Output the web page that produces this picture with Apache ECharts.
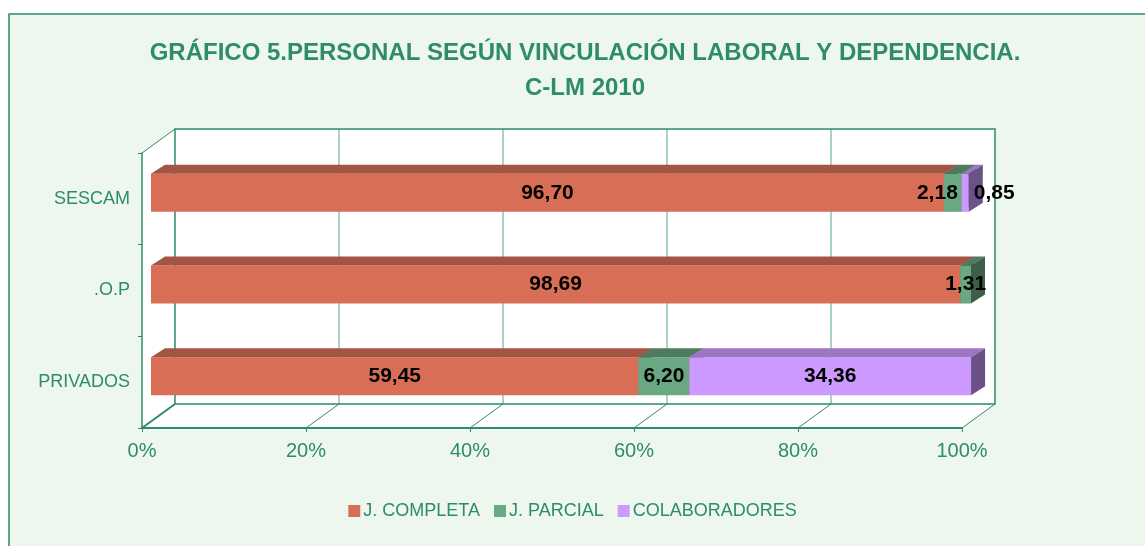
<!DOCTYPE html>
<html>
<head>
<meta charset="utf-8">
<script src="https://cdn.jsdelivr.net/npm/echarts@6/dist/echarts.min.js"></script>
<style>html,body{margin:0;padding:0;background:#fff}#c{width:1145px;height:546px}</style>
</head>
<body>
<div id="c"></div>
<script>
const categories = ['PRIVADOS', '.O.P', 'SESCAM'];
const jCompleta = [59.45, 98.69, 96.70];
const jParcial = [6.20, 1.31, 2.18];
const colaboradores = [34.36, 0, 0.85];
const seriesNames = ['J. COMPLETA', 'J. PARCIAL', 'COLABORADORES'];
const xTicks = [0, 20, 40, 60, 80, 100];
const titleText = 'GRÁFICO 5.PERSONAL SEGÚN VINCULACIÓN LABORAL Y DEPENDENCIA.\nC-LM 2010';

const GREEN = '#2E8B6B';
const LIGHT = '#8DC5AE';
const BG = '#EEF7EE';
const FONT = '"Liberation Sans", Arial, sans-serif';
const colors = [
  {front: '#D96E57', top: '#A35443', side: '#7E3F32'},
  {front: '#6AA883', top: '#4E7B5F', side: '#3E5E4A'},
  {front: '#CC99FF', top: '#9E76C4', side: '#6A5289'}
];
const DX = 33, DY = -24;       // box depth
const BX = 9, BY = -6;          // bar front offset
const BDX = 14, BDY = -9;       // bar depth

const values = [jCompleta, jParcial, colaboradores];

function fmt(v) { return v.toFixed(2).replace('.', ','); }

function frameRender(params, api) {
  const cs = params.coordSys;
  const top = cs.y, bot = cs.y + cs.height;
  const X = v => api.coord([v, 0])[0];
  const x0 = X(0), x1 = X(100);
  const ch = [];
  ch.push({type: 'polygon', shape: {points: [[x0, top], [x0 + DX, top + DY], [x1 + DX, top + DY], [x1 + DX, bot + DY], [x1, bot], [x0, bot]]}, style: {fill: '#fff', stroke: null}, z2: 0});
  xTicks.forEach(v => {
    if (v > 0 && v < 100) {
      ch.push({type: 'line', shape: {x1: X(v) + DX, y1: top + DY, x2: X(v) + DX, y2: bot + DY}, style: {stroke: LIGHT, lineWidth: 1.5}, z2: 1});
    }
    ch.push({type: 'line', shape: {x1: X(v), y1: bot, x2: X(v) + DX, y2: bot + DY}, style: {stroke: GREEN, lineWidth: v === 0 ? 2 : 1}, z2: 2});
  });
  ch.push({type: 'rect', shape: {x: x0 + DX, y: top + DY, width: x1 - x0, height: cs.height}, style: {fill: null, stroke: GREEN, lineWidth: 1.5}, z2: 3});
  ch.push({type: 'line', shape: {x1: x0, y1: top, x2: x0 + DX, y2: top + DY}, style: {stroke: GREEN, lineWidth: 1}, z2: 3});
  return {type: 'group', children: ch};
}

function makeBarRender(si) {
  return function (params, api) {
    const start = api.value(0), ci = api.value(1), val = api.value(2);
    if (!val) return null;
    const p0 = api.coord([start, ci]);
    const p1 = api.coord([start + val, ci]);
    const h = api.size([0, 1])[1] * 0.415;
    const xa = p0[0] + BX, xb = p1[0] + BX;
    const yc = p0[1] + BY;
    const t = yc - h / 2, b = yc + h / 2;
    const c = colors[si];
    const ch = [
      {type: 'rect', shape: {x: xa, y: t, width: xb - xa, height: h}, style: {fill: c.front}},
      {type: 'polygon', shape: {points: [[xa, t], [xa + BDX, t + BDY], [xb + BDX, t + BDY], [xb, t]]}, style: {fill: c.top}},
      {type: 'polygon', shape: {points: [[xb, t], [xb + BDX, t + BDY], [xb + BDX, b + BDY], [xb, b]]}, style: {fill: c.side}}
    ];
    let tx = (xa + xb) / 2, align = 'center';
    if (xb - xa < 30) {
      const idx = params.dataIndex;
      const next = si < values.length - 1 ? values[si + 1][idx] : 0;
      const prev = si > 0 ? values[si - 1][idx] : 100;
      if (next > 0) { tx = xb - 4; align = 'right'; }
      else if (prev < 5) { tx = xb + 5; align = 'left'; }
    }
    ch.push({type: 'text', z2: 100, style: {text: fmt(val), x: tx, y: yc, align: align, verticalAlign: 'middle', fontSize: 21, fontWeight: 'bold', fontFamily: FONT, fill: '#000'}});
    return {type: 'group', children: ch};
  };
}

const barSeries = values.map((arr, si) => ({
  type: 'custom',
  name: seriesNames[si],
  z: 3,
  coordinateSystem: 'cartesian2d',
  itemStyle: {color: colors[si].front},
  renderItem: makeBarRender(si),
  encode: {x: [0], y: 1},
  data: arr.map((v, i) => {
    let s = 0;
    for (let k = 0; k < si; k++) s += values[k][i];
    return [s, i, v];
  })
}));

const chart = echarts.init(document.getElementById('c'), null, {renderer: 'canvas'});
chart.setOption({
  backgroundColor: '#fff',
  animation: false,
  graphic: [{type: 'rect', z: -10, shape: {x: 9, y: 14, width: 1145, height: 546}, style: {fill: BG, stroke: GREEN, lineWidth: 1.5}}],
  title: {
    text: titleText,
    left: 580, top: 31, textAlign: 'center',
    textStyle: {color: GREEN, fontSize: 24, fontWeight: 'bold', fontFamily: FONT, lineHeight: 35}
  },
  legend: {
    data: seriesNames,
    left: 'center', top: 497,
    icon: 'rect', itemWidth: 12, itemHeight: 12, itemGap: 14,
    textStyle: {color: GREEN, fontSize: 18, fontFamily: FONT, padding: [0, 0, 0, -2]}
  },
  grid: {left: 142, top: 153, width: 820, height: 275, containLabel: false},
  xAxis: {
    type: 'value', min: 0, max: 100, interval: 20, z: 5,
    axisLine: {show: true, lineStyle: {color: GREEN, width: 2}},
    axisTick: {show: true, length: 4, lineStyle: {color: GREEN}},
    splitLine: {show: false},
    axisLabel: {formatter: '{value}%', color: GREEN, fontSize: 20, fontFamily: FONT, margin: 13}
  },
  yAxis: {
    type: 'category', data: categories, z: 5,
    axisLine: {show: true, lineStyle: {color: GREEN, width: 1.5}},
    axisTick: {show: true, length: 4, lineStyle: {color: GREEN}},
    axisLabel: {color: GREEN, fontSize: 18, fontFamily: FONT, margin: 12}
  },
  series: [{
    type: 'custom', name: 'frame', z: 1, silent: true,
    coordinateSystem: 'cartesian2d',
    renderItem: frameRender,
    data: [[0, 0]]
  }].concat(barSeries)
});
</script>
</body>
</html>
